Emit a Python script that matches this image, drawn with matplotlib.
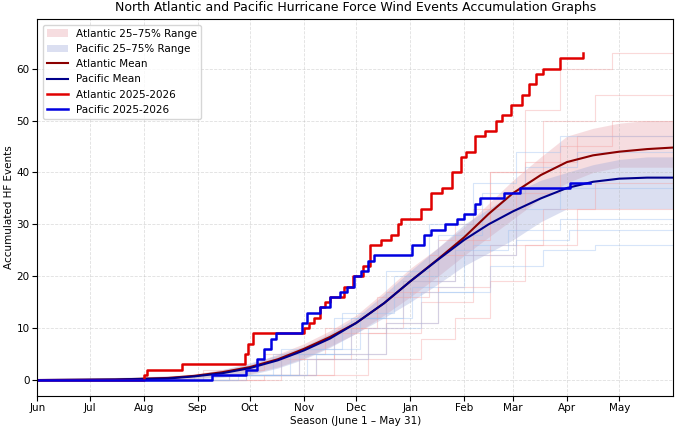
import matplotlib
matplotlib.use("Agg")
import matplotlib.pyplot as plt
import numpy as np

# days since June 1
month_days = [0, 30, 61, 92, 122, 153, 183, 214, 245, 273, 304, 334]
month_labels = ["Jun", "Jul", "Aug", "Sep", "Oct", "Nov", "Dec", "Jan", "Feb", "Mar", "Apr", "May"]

mean_days = [0, 45, 75, 90, 106, 122, 138, 153, 168, 183, 199, 214, 230, 245, 259, 273, 289, 304, 319, 334, 350, 365]
atl_mean = [0, 0.1, 0.4, 0.8, 1.5, 2.5, 4.0, 6.0, 8.3, 11.0, 14.8, 19.0, 23.3, 27.5, 32.0, 36.0, 39.5, 42.0, 43.3, 44.0, 44.5, 44.8]
pac_mean = [0, 0.1, 0.3, 0.7, 1.3, 2.3, 3.8, 5.7, 8.0, 11.0, 14.8, 19.0, 23.2, 27.0, 30.0, 32.5, 35.0, 37.0, 38.2, 38.8, 39.0, 39.0]
atl_q25 = [0, 0, 0.1, 0.3, 0.7, 1.2, 2.5, 4.2, 6.5, 9.0, 12.5, 16.0, 20.0, 24.0, 27.5, 31.0, 35.0, 38.0, 40.0, 41.0, 41.0, 41.0]
atl_q75 = [0, 0.3, 0.8, 1.2, 2.0, 3.0, 5.0, 7.0, 9.5, 12.5, 17.0, 21.5, 25.5, 29.5, 34.0, 38.5, 43.0, 47.0, 48.5, 49.5, 50.0, 50.0]
pac_q25 = [0, 0, 0.1, 0.2, 0.5, 1.0, 2.3, 4.0, 6.3, 9.0, 12.0, 15.0, 18.5, 22.0, 24.5, 27.0, 30.5, 33.0, 33.0, 33.0, 33.0, 33.0]
pac_q75 = [0, 0.5, 0.8, 1.0, 2.0, 3.3, 4.8, 6.5, 9.0, 12.0, 16.5, 21.0, 25.5, 30.0, 33.0, 36.0, 38.5, 40.0, 41.5, 42.5, 43.0, 43.0]

atl_cur_days = [0, 61, 63, 83, 116, 119, 121, 124, 150, 153, 156, 159, 162, 165, 168, 176, 181, 187, 191, 197, 203, 207, 209, 216, 220, 226, 232, 238, 243, 246, 251, 257, 263, 267, 272, 278, 282, 286, 290, 297, 300, 313]
atl_cur = [0, 1, 2, 3, 3, 5, 7, 9, 9, 10, 11, 12, 14, 15, 16, 18, 20, 22, 26, 27, 28, 30, 31, 31, 33, 36, 37, 40, 43, 44, 47, 48, 50, 51, 53, 55, 57, 59, 60, 60, 62, 63]
pac_cur_days = [0, 100, 116, 120, 126, 130, 134, 137, 149, 152, 155, 162, 168, 174, 178, 182, 186, 190, 193, 212, 215, 222, 226, 234, 241, 245, 251, 254, 265, 268, 277, 303, 306, 317]
pac_cur = [0, 1, 1, 2, 4, 6, 8, 9, 9, 11, 13, 14, 16, 17, 18, 20, 21, 23, 24, 24, 26, 28, 29, 30, 31, 32, 34, 35, 35, 36, 37, 37, 38, 38]

# a few faint individual seasons (step breakpoints)
atl_years = [
    ([0, 110, 150, 180, 210, 240, 260, 280, 300, 330, 365], [0, 1, 4, 10, 19, 30, 40, 52, 60, 63, 66]),
    ([0, 100, 140, 170, 200, 230, 260, 290, 320, 365], [0, 1, 4, 9, 17, 27, 40, 50, 55, 57]),
    ([0, 130, 160, 190, 220, 250, 275, 300, 330, 365], [0, 1, 4, 9, 15, 24, 36, 45, 50, 51]),
    ([0, 120, 170, 200, 230, 260, 290, 320, 365], [0, 1, 5, 11, 18, 26, 33, 38, 41]),
    ([0, 140, 190, 220, 240, 260, 280, 310, 365], [0, 1, 4, 8, 12, 19, 26, 33, 36]),
    ([0, 95, 130, 165, 195, 225, 250, 280, 310, 365], [0, 2, 5, 10, 16, 24, 33, 42, 47, 48]),
]
pac_years = [
    ([0, 120, 160, 200, 230, 260, 290, 320, 365], [0, 1, 5, 11, 17, 22, 25, 26, 26]),
    ([0, 110, 150, 185, 215, 245, 275, 305, 365], [0, 1, 6, 12, 18, 24, 27, 29, 29]),
    ([0, 100, 145, 180, 210, 240, 270, 300, 365], [0, 1, 5, 12, 19, 25, 29, 31, 31]),
    ([0, 90, 140, 175, 205, 230, 255, 280, 310, 365], [0, 1, 6, 13, 20, 28, 36, 41, 44, 45]),
    ([0, 95, 135, 170, 200, 225, 250, 275, 300, 365], [0, 1, 5, 12, 21, 30, 38, 44, 47, 48]),
    ([0, 115, 155, 190, 220, 250, 275, 300, 365], [0, 1, 4, 10, 17, 26, 33, 37, 39]),
]

fig, ax = plt.subplots(figsize=(6.8, 4.3), dpi=100)

for d, v in atl_years:
    ax.plot(d, v, drawstyle="steps-post", color="#f4a0a0", lw=0.8, alpha=0.4)
for d, v in pac_years:
    ax.plot(d, v, drawstyle="steps-post", color="#9cc0f0", lw=0.8, alpha=0.4)

ax.fill_between(mean_days, atl_q25, atl_q75, color="#e8a0a8", alpha=0.35, lw=0, label="Atlantic 25–75% Range")
ax.fill_between(mean_days, pac_q25, pac_q75, color="#9aa6d8", alpha=0.35, lw=0, label="Pacific 25–75% Range")
ax.plot(mean_days, atl_mean, color="#8b0000", lw=1.5, label="Atlantic Mean")
ax.plot(mean_days, pac_mean, color="#00008b", lw=1.5, label="Pacific Mean")
ax.plot(atl_cur_days, atl_cur, drawstyle="steps-post", color="#e00000", lw=1.8, label="Atlantic 2025-2026")
ax.plot(pac_cur_days, pac_cur, drawstyle="steps-post", color="#0000e0", lw=1.8, label="Pacific 2025-2026")

ax.set_xlim(0, 365)
ax.set_ylim(-3, 69.5)
ax.set_xticks(month_days)
ax.set_xticklabels(month_labels, fontsize=7.5)
ax.set_yticks(range(0, 61, 10))
ax.tick_params(axis="both", labelsize=7.5, pad=2)
ax.grid(True, ls="--", alpha=0.4, lw=0.6)
ax.set_xlabel("Season (June 1 – May 31)", fontsize=7.5, labelpad=2)
ax.set_ylabel("Accumulated HF Events", fontsize=7.5, labelpad=2)
ax.set_title("North Atlantic and Pacific Hurricane Force Wind Events Accumulation Graphs", fontsize=9)
ax.legend(loc="upper left", fontsize=7.5)
fig.subplots_adjust(left=0.055, right=0.99, top=0.955, bottom=0.08)
fig.savefig("out.png")
